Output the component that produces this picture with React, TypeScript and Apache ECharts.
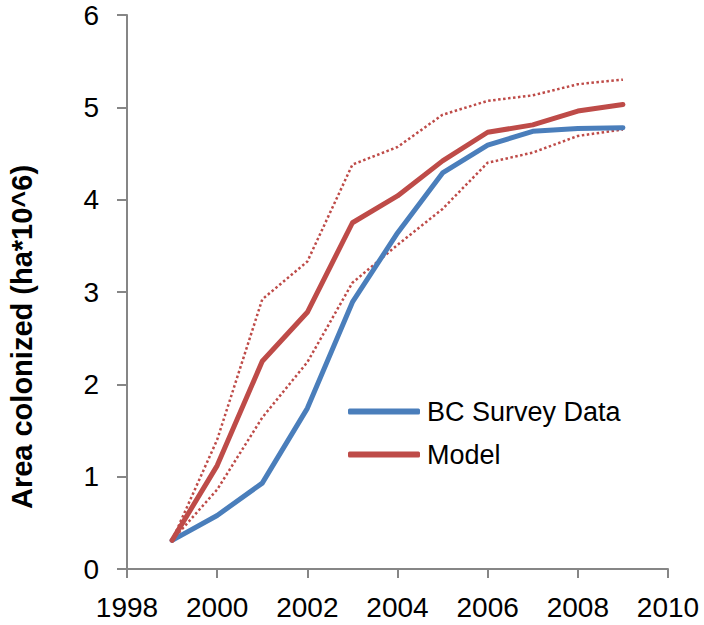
import React, { useEffect, useRef } from "react";
import * as echarts from "echarts";

const years = [1999, 2000, 2001, 2002, 2003, 2004, 2005, 2006, 2007, 2008, 2009];
const surveyData = [0.31, 0.58, 0.93, 1.74, 2.89, 3.64, 4.29, 4.59, 4.74, 4.77, 4.78];
const modelData = [0.31, 1.12, 2.25, 2.78, 3.75, 4.04, 4.42, 4.73, 4.81, 4.96, 5.03];
const modelUpper = [0.31, 1.4, 2.92, 3.33, 4.38, 4.57, 4.92, 5.07, 5.13, 5.25, 5.3];
const modelLower = [0.31, 0.86, 1.64, 2.24, 3.1, 3.51, 3.9, 4.4, 4.51, 4.69, 4.76];
const yTitle = "Area colonized (ha*10^6)";

const BLUE = "#4A7EBB";
const RED = "#BE4B48";
const AXIS = "#868686";
const FONT = "Liberation Sans";

const pairs = (vals: number[]) => years.map((y, i) => [y, vals[i]]);

export default function App() {
  const ref = useRef<HTMLDivElement>(null);
  useEffect(() => {
    if (!ref.current) return;
    const chart = echarts.init(ref.current, undefined, { renderer: "svg" });
    chart.setOption({
      animation: false,
      backgroundColor: "#ffffff",
      grid: { left: 127, right: 36, top: 15, bottom: 56 },
      graphic: [
        {
          type: "text",
          x: 22,
          y: 337,
          rotation: Math.PI / 2,
          style: {
            text: yTitle,
            fontFamily: FONT,
            fontSize: 29,
            fontWeight: "bold",
            fill: "#000",
            align: "center",
            verticalAlign: "middle",
          },
        },
      ],
      legend: {
        data: ["BC Survey Data", "Model"],
        orient: "vertical",
        left: 348,
        top: 398,
        padding: 0,
        itemWidth: 72,
        itemHeight: 6,
        itemGap: 16,
        icon: "roundRect",
        textStyle: { fontFamily: FONT, fontSize: 27, color: "#000", padding: [0, 0, 0, 2] },
      },
      xAxis: {
        type: "value",
        min: 1998,
        max: 2010,
        interval: 2,
        axisLine: { show: true, lineStyle: { color: AXIS, width: 2 } },
        axisTick: { show: true, length: 9, lineStyle: { color: AXIS, width: 2 } },
        splitLine: { show: false },
        axisLabel: {
          fontFamily: FONT,
          fontSize: 28,
          color: "#000",
          margin: 24,
          formatter: (v: number) => String(v),
        },
      },
      yAxis: {
        type: "value",
        min: 0,
        max: 6,
        interval: 1,
        axisLine: { show: true, lineStyle: { color: AXIS, width: 2 } },
        axisTick: { show: true, length: 10, lineStyle: { color: AXIS, width: 2 } },
        splitLine: { show: false },
        axisLabel: { fontFamily: FONT, fontSize: 28, color: "#000", margin: 28 },
      },
      series: [
        {
          name: "Model upper",
          type: "line",
          data: pairs(modelUpper),
          showSymbol: false,
          lineStyle: { color: RED, width: 2.5, type: [2.5, 2.5] },
          z: 2,
        },
        {
          name: "Model lower",
          type: "line",
          data: pairs(modelLower),
          showSymbol: false,
          lineStyle: { color: RED, width: 2.5, type: [2.5, 2.5] },
          z: 2,
        },
        {
          name: "BC Survey Data",
          type: "line",
          data: pairs(surveyData),
          showSymbol: false,
          itemStyle: { color: BLUE },
          lineStyle: { color: BLUE, width: 5, cap: "round", join: "round" },
          z: 3,
        },
        {
          name: "Model",
          type: "line",
          data: pairs(modelData),
          showSymbol: false,
          itemStyle: { color: RED },
          lineStyle: { color: RED, width: 5, cap: "round", join: "round" },
          z: 4,
        },
      ],
    });
    return () => chart.dispose();
  }, []);
  return <div ref={ref} style={{ width: 704, height: 625, position: "absolute", left: 0, top: 0 }} />;
}
